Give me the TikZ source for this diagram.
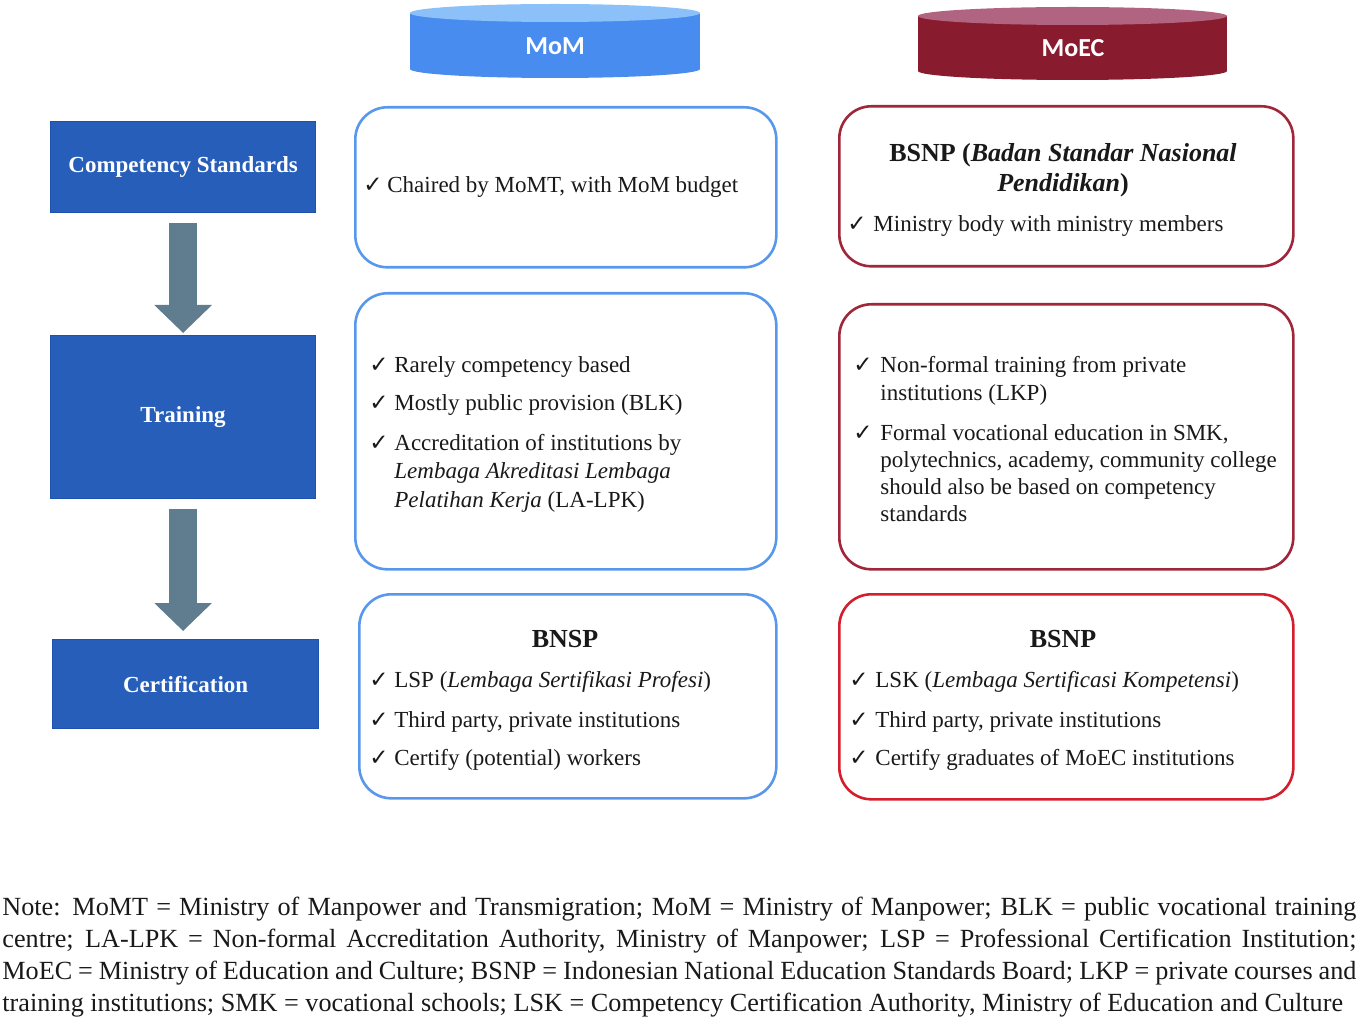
\documentclass[tikz,border=0pt]{standalone}
\usepackage{fontspec}
\setmainfont{Liberation Serif}
\newfontfamily\calib{Carlito}
\newfontfamily\symf{DejaVu Sans}
\usetikzlibrary{arrows.meta}
\definecolor{leftblue}{RGB}{38,94,186}
\definecolor{leftedge}{RGB}{30,80,175}
\definecolor{arrowgrey}{RGB}{96,125,143}
\definecolor{momdark}{RGB}{72,140,240}
\definecolor{momlight}{RGB}{140,192,248}
\definecolor{moecdark}{RGB}{137,27,46}
\definecolor{moeclight}{RGB}{176,100,128}
\definecolor{momedge}{RGB}{88,152,236}
\definecolor{moecedge}{RGB}{160,38,58}
\definecolor{certred}{RGB}{212,30,45}
\definecolor{txtc}{RGB}{25,25,25}
\begin{document}
\begin{tikzpicture}[x=0.5pt,y=-0.5pt,
  lbox/.style={draw=leftedge,fill=leftblue,line width=0.6pt,anchor=north west,inner sep=0pt,
    text=white,font=\bfseries\fontsize{11.5}{13}\selectfont},
  rbox/.style={draw,rounded corners=16pt,line width=1.3pt,anchor=north west,inner sep=0pt,fill=white},
  cyltxt/.style={text=white,font=\calib\bfseries\fontsize{13}{15}\selectfont,inner sep=0pt},
  ck/.style={anchor=base west,inner sep=0pt,text=txtc,font=\symf\bfseries\fontsize{11.5}{12}\selectfont},
  txt/.style={anchor=base west,inner sep=0pt,text=txtc,font=\fontsize{11.5}{14}\selectfont},
  ttl/.style={anchor=base,inner sep=0pt,text=txtc,font=\bfseries\fontsize{13}{15}\selectfont},
  bigarrow/.style={draw=arrowgrey,line width=14pt,-{Triangle[width=28pt,length=14pt]}},
  note/.style={anchor=base west,inner sep=0pt,text=txtc,align=left,font=\fontsize{13.1}{15.85}\selectfont}
]
\useasboundingbox (0,0) rectangle (1363,1021);

% cylinders
\fill[momdark] (555,69) ellipse [x radius=72.5pt, y radius=4.5pt];
\fill[momdark] (410,13) rectangle (700,69);
\fill[momlight] (555,13) ellipse [x radius=72.5pt, y radius=4.5pt];
\node[cyltxt] (mom) at (555,46) {MoM};

\fill[moecdark] (1072.5,71) ellipse [x radius=77.25pt, y radius=4.5pt];
\fill[moecdark] (918,16) rectangle (1227,71);
\fill[moeclight] (1072.5,16) ellipse [x radius=77.25pt, y radius=4.5pt];
\node[cyltxt] (moec) at (1073,48) {MoEC};

% left boxes
\node[lbox,minimum width=132.5pt,minimum height=45.5pt] (cs) at (50,121) {\raisebox{-2pt}{Competency Standards}};
\node[lbox,minimum width=132.5pt,minimum height=81.5pt] (tr) at (50,335) {\raisebox{-1.5pt}{Training}};
\node[lbox,minimum width=133pt,minimum height=44.5pt] (ce) at (52,639) {Certification};

\draw[bigarrow,shorten >=1pt] ([yshift=-5pt]cs.south) -- (tr.north);
\draw[bigarrow,shorten >=4pt] ([yshift=-5pt]tr.south) -- (tr.south |- ce.north);

% MoM column boxes
\node[rbox,draw=momedge,minimum width=210.5pt,minimum height=80pt] (m1) at (354,106) {};
\node[rbox,draw=momedge,minimum width=210.5pt,minimum height=138pt] (m2) at (354,292) {};
\node[rbox,draw=momedge,minimum width=208.5pt,minimum height=102pt] (m3) at (358,593) {};
% MoEC column boxes
\node[rbox,draw=moecedge,minimum width=227pt,minimum height=80pt] (e1) at (838,105) {};
\node[rbox,draw=moecedge,minimum width=227pt,minimum height=132.5pt] (e2) at (838,303) {};
\node[rbox,draw=certred,minimum width=227pt,minimum height=102.5pt] (e3) at (838,593) {};

% m1
\node[ck] (m1c1) at (363,193) {✓};
\node[txt] (m1t1) at (387,193) {Chaired by MoMT, with MoM budget};

% e1
\node[ttl] (e1h1) at (1063,162) {BSNP (\textit{Badan Standar Nasional}};
\node[ttl] (e1h2) at (1063,192) {\textit{Pendidikan})};
\node[ck] (e1c1) at (847,232) {✓};
\node[txt] (e1t1) at (873,232) {Ministry body with ministry members};

% m2
\node[ck] (m2c1) at (369,372) {✓};
\node[txt] (m2t1) at (394,372) {Rarely competency based};
\node[ck] (m2c2) at (369,410) {✓};
\node[txt] (m2t2) at (394,410) {Mostly public provision (BLK)};
\node[ck] (m2c3) at (369,450) {✓};
\node[txt] (m2t3) at (394,450) {Accreditation of institutions by};
\node[txt] (m2t4) at (394,478) {\textit{Lembaga Akreditasi Lembaga}};
\node[txt] (m2t5) at (394,507) {\textit{Pelatihan Kerja} (LA-LPK)};

% e2
\node[ck] (e2c1) at (853,372) {✓};
\node[txt] (e2t1) at (880,372) {Non-formal training from private};
\node[txt] (e2t2) at (880,400) {institutions (LKP)};
\node[ck] (e2c2) at (853,440) {✓};
\node[txt] (e2t3) at (880,440) {Formal vocational education in SMK,};
\node[txt] (e2t4) at (880,467) {polytechnics, academy, community college};
\node[txt] (e2t5) at (880,494) {should also be based on competency};
\node[txt] (e2t6) at (880,521) {standards};

% m3
\node[ttl] (m3h) at (565,647) {BNSP};
\node[ck] (m3c1) at (369,687) {✓};
\node[txt] (m3t1) at (394,687) {LSP (\textit{Lembaga Sertifikasi Profesi})};
\node[ck] (m3c2) at (369,727) {✓};
\node[txt] (m3t2) at (394,727) {Third party, private institutions};
\node[ck] (m3c3) at (369,765) {✓};
\node[txt] (m3t3) at (394,765) {Certify (potential) workers};

% e3
\node[ttl] (e3h) at (1063,647) {BSNP};
\node[ck] (e3c1) at (849,687) {✓};
\node[txt] (e3t1) at (875,687) {LSK (\textit{Lembaga Sertificasi Kompetensi})};
\node[ck] (e3c2) at (849,727) {✓};
\node[txt] (e3t2) at (875,727) {Third party, private institutions};
\node[ck] (e3c3) at (849,765) {✓};
\node[txt] (e3t3) at (875,765) {Certify graduates of MoEC institutions};

% note (base anchor = baseline of last line)
\node[note] (nt) at (2,1011) {%
\makebox[677pt][s]{Note: MoMT = Ministry of Manpower and Transmigration; MoM = Ministry of Manpower; BLK = public vocational training}\\
\makebox[677pt][s]{centre; LA-LPK = Non-formal Accreditation Authority, Ministry of Manpower; LSP = Professional Certification Institution;}\\
\makebox[677pt][s]{MoEC = Ministry of Education and Culture; BSNP = Indonesian National Education Standards Board; LKP = private courses and}\\
training institutions; SMK = vocational schools; LSK = Competency Certification Authority, Ministry of Education and Culture};
\end{tikzpicture}
\end{document}
